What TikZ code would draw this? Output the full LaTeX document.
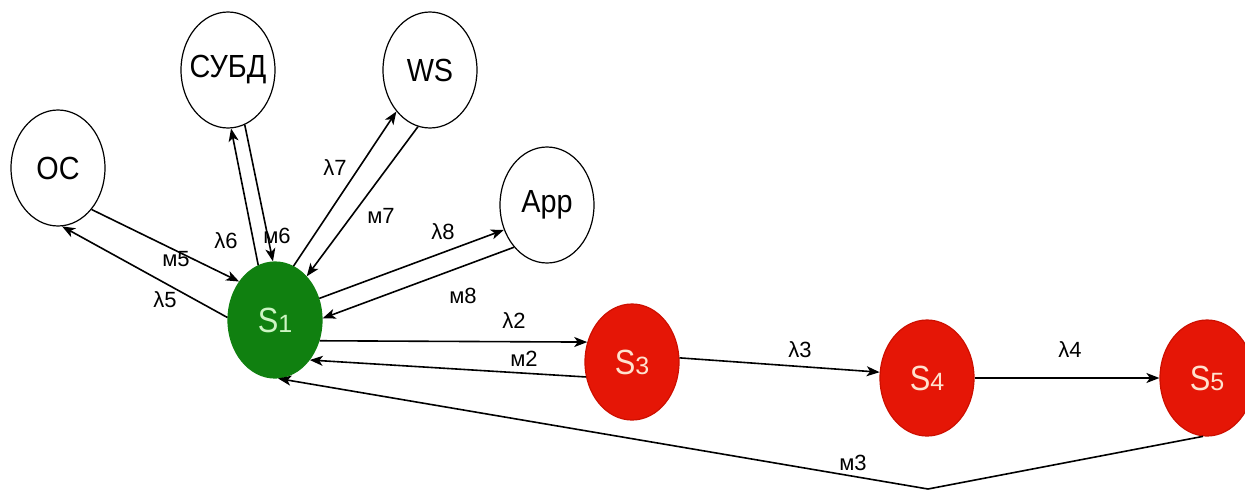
\documentclass[tikz,border=0pt]{standalone}
\usepackage{fontspec}
\setmainfont{Liberation Sans}
\usepackage{graphicx}
\usetikzlibrary{shapes.geometric,arrows.meta}
\definecolor{sgreen}{RGB}{16,128,16}
\definecolor{sred}{RGB}{229,22,6}
\definecolor{sredline}{RGB}{205,15,0}
\definecolor{gtext}{RGB}{205,245,195}
\definecolor{rtext}{RGB}{255,226,206}
\newcommand{\ntxt}[1]{\makebox[0pt]{\scalebox{0.9}[1]{#1}}}
\newcommand{\stxt}[1]{\makebox[0pt]{\scalebox{0.88}[1]{S}{\fontsize{25}{25}\selectfont #1}}}
\begin{document}
\begin{tikzpicture}[x=1pt,y=-1pt,
  state/.style={ellipse,draw=black,line width=1.2pt,minimum width=94pt,minimum height=116pt,inner sep=0pt,font=\fontsize{32}{32}\selectfont},
  gstate/.style={state,fill=sgreen,draw=sgreen,text=gtext,font=\fontsize{35}{35}\selectfont},
  rstate/.style={state,fill=sred,draw=sredline,text=rtext,font=\fontsize{35}{35}\selectfont},
  arr/.style={-{Stealth[length=13pt,width=10pt,inset=3.5pt]},line width=1.6pt},
  lbl/.style={font=\fontsize{22}{22}\selectfont,inner sep=0pt}]
\useasboundingbox (0,0) rectangle (1245,491);

% nodes
\node[state] (OC) at (58,168) {\ntxt{OC}};
\node[state] (DB) at (228,70) {\ntxt{СУБД}};
\node[state] (WS) at (430,70) {\ntxt{WS}};
\node[state] (App) at (547,205) {\ntxt{App}};
\node[gstate] (S1) at (275,320) {\stxt{1}};
\node[rstate] (S3) at (632,362) {\stxt{3}};
\node[rstate] (S4) at (927,378) {\stxt{4}};
\node[rstate] (S5) at (1207,378) {\stxt{5}};
\coordinate (low) at (928,489);

% connectors
\draw[arr] (OC.-51) -- (S1.133);
\draw[arr] (S1.177) -- (OC.-86);
\draw[arr] (S1.107) -- (DB.-87);
\draw[arr] (DB.-73) -- (S1.92);
\draw[arr] (S1.71) -- (WS.-129);
\draw[arr] (WS.-102) -- (S1.54);
\draw[arr] (S1.26) -- (App.-150);
\draw[arr] (App.-128) -- (S1.2);
\draw[arr] (S1.-25) -- (S3.156);
\draw[arr] (S3.-162) -- (S1.-49);
\draw[arr] (S3.5) -- (S4.173);
\draw[arr] (S4.east) -- (S5.west);
\draw[arr] (S5.-94) -- (low) -- (S1.-87);

% labels
\node[lbl] (l5) at (165,300) {λ5};
\node[lbl] (m5) at (176,259) {м5};
\node[lbl] (l6) at (226,241) {λ6};
\node[lbl] (m6) at (277,236) {м6};
\node[lbl] (l7) at (335,168) {λ7};
\node[lbl] (m7) at (381,216) {м7};
\node[lbl] (l8) at (443,232) {λ8};
\node[lbl] (m8) at (463,296) {м8};
\node[lbl] (l2) at (514,321) {λ2};
\node[lbl] (m2) at (524,359) {м2};
\node[lbl] (l3) at (800,350) {λ3};
\node[lbl] (l4) at (1070,350) {λ4};
\node[lbl] (m3) at (853,463) {м3};
\end{tikzpicture}
\end{document}
